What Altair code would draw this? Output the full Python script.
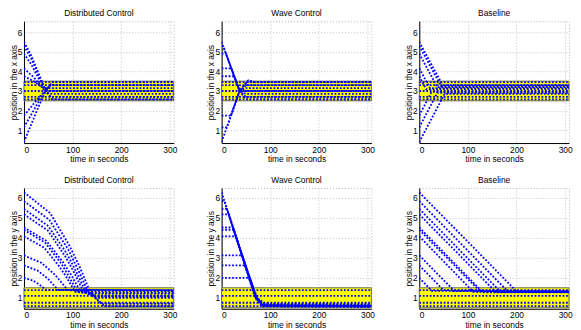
import altair as alt
import pandas as pd

T_END = 308
TIME_TICKS = [0, 100, 200, 300]
TOP_BAND = [2.5, 3.5]
BOT_BAND = [0.5, 1.5]
TOP_DOMAIN = [0.35, 6.55]
BOT_DOMAIN = [0.45, 6.5]
TITLES = ["Distributed Control", "Wave Control", "Baseline"]

# agents that start inside the target band (horizontal for the whole run)
TOP_IN_BAND = [3.45, 3.3, 3.0, 2.7, 2.57]
BOT_IN_BAND = [1.38, 1.1, 0.75, 0.58]

# ---- x position trajectories: (time, value) breakpoints
dist_x = [
    [(0, 5.5), (15, 4.8), (30, 3.9), (45, 3.0), (58, 2.57), (308, 2.57)],
    [(0, 5.3), (15, 4.65), (30, 3.8), (45, 3.0), (55, 2.7), (308, 2.7)],
    [(0, 4.9), (15, 4.35), (30, 3.65), (45, 3.0), (52, 2.85), (308, 2.85)],
    [(0, 4.15), (20, 3.7), (40, 3.1), (50, 3.0), (308, 3.0)],
    [(0, 3.75), (20, 3.5), (40, 3.15), (308, 3.15)],
    [(0, 1.75), (15, 2.2), (30, 2.65), (45, 3.05), (55, 3.3), (308, 3.3)],
    [(0, 1.15), (15, 1.8), (30, 2.45), (45, 3.05), (55, 3.3), (308, 3.3)],
    [(0, 0.4), (15, 1.3), (30, 2.2), (45, 3.0), (58, 3.45), (308, 3.45)],
]
wave_x = [
    [(0, 5.5), (37, 3.0), (50, 2.57), (308, 2.57)],
    [(0, 5.3), (3, 5.3), (37, 3.0), (50, 2.7), (308, 2.7)],
    [(0, 4.9), (9, 4.9), (37, 3.0), (50, 2.85), (308, 2.85)],
    [(0, 4.15), (20, 4.15), (37, 3.0), (48, 3.0), (308, 3.0)],
    [(0, 3.75), (26, 3.75), (37, 3.0), (50, 3.15), (308, 3.15)],
    [(0, 1.75), (19, 1.75), (37, 3.0), (50, 3.3), (308, 3.3)],
    [(0, 1.15), (11, 1.15), (37, 3.0), (52, 3.48), (60, 3.45), (308, 3.45)],
    [(0, 0.4), (37, 3.0), (55, 3.55), (70, 3.45), (308, 3.45)],
]
base_x = [
    [(0, 5.5), (48, 3.3), (308, 3.3)],
    [(0, 5.3), (45, 3.25), (308, 3.25)],
    [(0, 4.9), (37, 3.2), (308, 3.2)],
    [(0, 4.15), (22, 3.15), (308, 3.15)],
    [(0, 3.75), (14, 3.1), (308, 3.1)],
    [(0, 1.75), (25, 2.95), (308, 2.95)],
    [(0, 1.15), (37, 2.9), (308, 2.9)],
    [(0, 0.4), (52, 2.85), (308, 2.85)],
]

# ---- y position trajectories
dist_y = [
    [(0, 6.28), (54, 5.24), (94, 3.59), (115, 2.53), (135, 1.35), (150, 0.9), (165, 0.58), (308, 0.58)],
    [(0, 5.84), (52, 4.91), (91, 3.42), (110, 2.47), (130, 1.4), (145, 1.0), (308, 1.0)],
    [(0, 5.45), (50, 4.59), (88, 3.22), (107, 2.33), (126, 1.35), (140, 1.1), (308, 1.1)],
    [(0, 5.18), (49, 4.37), (85, 3.07), (104, 2.23), (122, 1.3), (145, 1.05), (308, 1.05)],
    [(0, 4.52), (46, 3.85), (80, 2.79), (98, 2.11), (115, 1.35), (140, 1.2), (308, 1.2)],
    [(0, 4.4), (44, 3.75), (77, 2.71), (93, 2.04), (110, 1.3), (140, 1.25), (308, 1.25)],
    [(0, 4.08), (42, 3.5), (73, 2.56), (89, 1.97), (105, 1.3), (140, 1.2), (160, 0.7), (308, 0.7)],
    [(0, 3.12), (36, 2.75), (63, 2.17), (76, 1.8), (90, 1.38), (140, 1.32), (308, 1.32)],
    [(0, 2.62), (28, 2.36), (49, 1.96), (59, 1.69), (70, 1.4), (308, 1.38)],
    [(0, 2.0), (18, 1.87), (31, 1.67), (38, 1.54), (45, 1.4), (308, 1.35)],
]
wave_y = [
    [(0, 6.28), (69, 1.0), (82, 0.6), (308, 0.55)],
    [(0, 5.84), (6, 5.84), (70, 1.0), (84, 0.62), (308, 0.6)],
    [(0, 5.45), (11, 5.45), (71, 1.02), (85, 0.65), (308, 0.62)],
    [(0, 5.18), (15, 5.18), (70, 1.0), (86, 0.6), (308, 0.57)],
    [(0, 4.52), (23, 4.52), (71, 1.0), (88, 0.68), (308, 0.65)],
    [(0, 4.4), (25, 4.4), (72, 1.0), (86, 0.58), (308, 0.56)],
    [(0, 4.08), (29, 4.08), (71, 0.98), (84, 0.63), (308, 0.6)],
    [(0, 3.12), (42, 3.12), (72, 1.0), (90, 0.7), (308, 0.68)],
    [(0, 2.62), (48, 2.62), (73, 1.0), (87, 0.6), (308, 0.58)],
    [(0, 2.0), (57, 2.0), (72, 0.98), (85, 0.56), (308, 0.55)],
]
base_y = [
    [(0, 6.28), (201, 1.3), (308, 1.3)],
    [(0, 5.84), (182, 1.32), (308, 1.32)],
    [(0, 5.45), (168, 1.28), (308, 1.28)],
    [(0, 5.18), (157, 1.3), (308, 1.3)],
    [(0, 4.52), (131, 1.27), (308, 1.27)],
    [(0, 4.4), (125, 1.33), (308, 1.33)],
    [(0, 4.08), (111, 1.3), (308, 1.3)],
    [(0, 3.12), (72, 1.35), (308, 1.3)],
    [(0, 2.62), (50, 1.38), (308, 1.33)],
    [(0, 2.0), (26, 1.35), (308, 1.28)],
]

FONT = "Liberation Sans"
FS = 8.4
PW = 150


def panel(trajs, in_band, band, ydom, title, ytitle, height):
    rows = []
    for i, tr in enumerate(trajs):
        for j, (t, v) in enumerate(tr):
            rows.append({"agent": i, "ord": j, "t": t, "v": v})
    for k, v in enumerate(in_band):
        a = len(trajs) + k
        rows.append({"agent": a, "ord": 0, "t": 0, "v": v})
        rows.append({"agent": a, "ord": 1, "t": T_END, "v": v})
    df = pd.DataFrame(rows)
    band_df = pd.DataFrame({"t": [0], "t2": [T_END], "v": [band[0]], "v2": [band[1]]})

    xax = alt.Axis(values=TIME_TICKS, title="time in seconds", format="d", titlePadding=1)
    yax = alt.Axis(values=[1, 2, 3, 4, 5, 6], title=ytitle, format="d", titlePadding=-1)
    xs = alt.Scale(domain=[0, T_END], nice=False, zero=False)
    ys = alt.Scale(domain=ydom, nice=False, zero=False)

    rect = alt.Chart(band_df).mark_rect(
        fill="#ffff00", stroke="#6e6e4a", strokeWidth=1
    ).encode(
        x=alt.X("t:Q", scale=xs, axis=xax),
        x2="t2:Q",
        y=alt.Y("v:Q", scale=ys, axis=yax),
        y2="v2:Q",
    )
    lines = alt.Chart(df).mark_line(
        color="#0000ff", strokeWidth=1.8, strokeDash=[1.8, 1.7], strokeCap="butt", clip=True
    ).encode(
        x=alt.X("t:Q", scale=xs, axis=xax),
        y=alt.Y("v:Q", scale=ys, axis=yax),
        detail="agent:N",
        order="ord:Q",
    )
    return alt.layer(rect, lines).properties(
        width=PW, height=height, title=title
    )


panels = []
for trs, ti in zip([dist_x, wave_x, base_x], TITLES):
    panels.append(panel(trs, TOP_IN_BAND, TOP_BAND, TOP_DOMAIN, ti, "position in the x axis", 122))
for trs, ti in zip([dist_y, wave_y, base_y], TITLES):
    panels.append(panel(trs, BOT_IN_BAND, BOT_BAND, BOT_DOMAIN, ti, "position in the y axis", 121))

chart = alt.concat(
    *panels, columns=3, spacing={"row": 45, "column": 48}, bounds="flush"
).properties(
    padding=0
).configure_view(
    stroke="#b5b5b5", strokeDash=[1, 2], strokeWidth=1
).configure_axis(
    labelFont=FONT, labelFontSize=FS, labelColor="#000000",
    titleFont=FONT, titleFontSize=FS, titleFontWeight="normal", titleColor="#000000",
    domainColor="#000000", domainWidth=1, ticks=False, labelPadding=2,
    grid=True, gridColor="#c4c4c4", gridDash=[1, 2], gridWidth=1,
).configure_title(
    font=FONT, fontSize=FS, fontWeight="normal", color="#000000", offset=0
)

chart.save("out.html", embed_options={"renderer": "svg", "actions": False})
